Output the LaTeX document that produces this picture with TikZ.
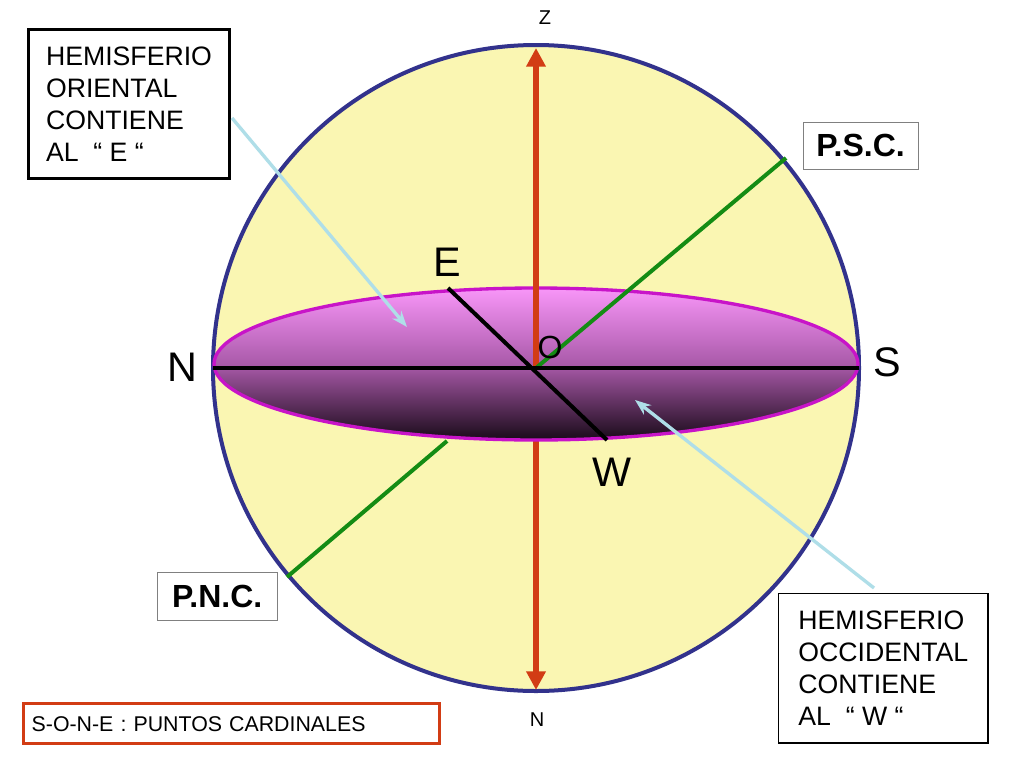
\documentclass[tikz,border=0pt]{standalone}
\usepackage{fontspec}
\setmainfont{Liberation Sans}
\usetikzlibrary{arrows.meta}
\definecolor{cream}{RGB}{250,246,178}
\definecolor{navy}{RGB}{50,50,140}
\definecolor{rust}{RGB}{210,60,20}
\definecolor{grn}{RGB}{20,140,20}
\definecolor{mag}{RGB}{200,20,200}
\definecolor{pinktop}{RGB}{248,150,248}
\definecolor{pinkmid}{RGB}{170,90,170}
\definecolor{pinkbot}{RGB}{25,10,25}
\definecolor{lblue}{RGB}{175,222,232}
\tikzset{
  txt/.style={font=\fontsize{20pt}{24pt}\selectfont, align=left, inner sep=8pt},
  bigl/.style={font=\fontsize{31pt}{34pt}\selectfont, inner sep=0pt},
  smalll/.style={font=\fontsize{15pt}{18pt}\selectfont, inner sep=0pt},
  pole/.style={draw=gray, font=\bfseries\fontsize{24pt}{28pt}\selectfont, fill=white, inner sep=6pt},
  pointer/.style={draw=lblue, line width=2.5pt, -{Stealth[length=12pt,width=9pt]}}
}
\begin{document}
\begin{tikzpicture}[x=0.75pt,y=-0.75pt]
\useasboundingbox (0,0) rectangle (1024,768);
\fill[white] (0,0) rectangle (1024,768);
\draw[navy, line width=3pt, fill=cream] (536,368) circle (323);
\coordinate (gb1) at (447,441); \coordinate (gb2) at (287,577);
\draw[grn, line width=3pt] (gb1) -- (gb2);
\coordinate (rb1) at (536,440); \coordinate (rb2) at (536,690);
\draw[rust, line width=4pt, -{Triangle[length=14pt,width=14pt]}] (rb1) -- (rb2);
\shade[top color=pinktop, bottom color=pinkbot, middle color=pinkmid] (536,364) ellipse (322 and 76);
\draw[mag, line width=2.5pt] (536,364) ellipse (322 and 76);
\coordinate (O) at (536,368); \coordinate (Zt) at (536,48);
\draw[rust, line width=4pt, -{Triangle[length=14pt,width=14pt]}] (O) -- (Zt);
\coordinate (gt) at (786,158);
\draw[grn, line width=3pt] (O) -- (gt);
\coordinate (Np) at (213,368); \coordinate (Sp) at (859,368);
\draw[black, line width=3pt] (Np) -- (Sp);
\coordinate (Ep) at (448,288); \coordinate (Wp) at (607,440);
\draw[black, line width=3pt] (Ep) -- (Wp);
\node[bigl] (lE) at (447,262) {E};
\node[bigl] (lW) at (612,472) {W};
\node[bigl] (lN) at (182,367) {N};
\node[bigl] (lS) at (887,362) {S};
\node[font=\fontsize{24pt}{28pt}\selectfont, inner sep=0pt] (lO) at (550,347) {O};
\node[smalll] (lZ) at (545,18) {Z};
\node[smalll] (lN2) at (537,720) {N};
\node[txt, draw=black, line width=2pt, anchor=north west, minimum width=151pt, minimum height=112pt] (orient) at (27,28) {HEMISFERIO\\ORIENTAL\\CONTIENE\\AL \ “ E “};
\node[txt, draw=black, line width=1pt, anchor=north west, minimum width=157pt, minimum height=112pt] (occid) at (778,593) {HEMISFERIO\\OCCIDENTAL\\CONTIENE\\AL \ “ W “};
\node[pole, anchor=north west, minimum width=86pt, minimum height=35pt] (psc) at (803,122) {P.S.C.};
\node[pole, anchor=north west, minimum width=90pt, minimum height=36pt] (pnc) at (157,572) {P.N.C.};
\node[draw=rust, line width=2.5pt, anchor=north west, minimum width=312pt, minimum height=30pt, text width=300pt, align=left, inner sep=5pt, font=\fontsize{16pt}{19pt}\selectfont] (card) at (22,702) {S-O-N-E : PUNTOS CARDINALES};
\coordinate (a1) at (232,118); \coordinate (a2) at (407,327);
\draw[pointer] (a1) -- (a2);
\coordinate (b1) at (874,588); \coordinate (b2) at (635,400);
\draw[pointer] (b1) -- (b2);
\end{tikzpicture}
\end{document}
